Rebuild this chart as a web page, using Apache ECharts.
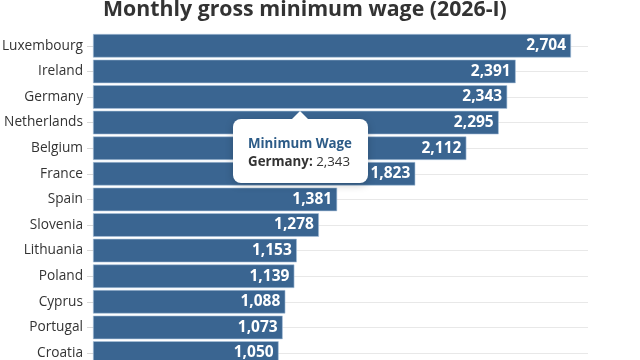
<!DOCTYPE html>
<html><head><meta charset="utf-8">
<script src="https://cdn.jsdelivr.net/npm/echarts@6/dist/echarts.min.js"></script>
<style>html,body{margin:0;padding:0;background:#fff}#c{width:640px;height:360px}</style>
</head><body><div id="c"></div>
<script>
const titleText = 'Monthly gross minimum wage (2026-I)';
const seriesName = 'Minimum Wage';
const countries = ['Luxembourg','Ireland','Germany','Netherlands','Belgium','France','Spain','Slovenia','Lithuania','Poland','Cyprus','Portugal','Croatia'];
const wages = [2704,2391,2343,2295,2112,1823,1381,1278,1153,1139,1088,1073,1050];
const tooltipIndex = 2;

const fmt = v => v.toLocaleString('en-US');
const chart = echarts.init(document.getElementById('c'));
chart.setOption({
  animation: false,
  title: { text: titleText, left: 98, top: -6,
    textStyle: { fontFamily: 'Open Sans', fontWeight: 'bold', fontSize: 21.3, color: '#333' } },
  grid: { left: 93, right: 52, top: 33, height: 332.8, containLabel: false, outerBoundsMode: 'none' },
  xAxis: { type: 'value', min: 0, max: 2800, show: false },
  yAxis: { type: 'category', data: countries, inverse: true,
    axisLine: { show: false },
    axisTick: { show: true, alignWithLabel: true, length: 6, lineStyle: { color: '#d8d8d8' } },
    axisLabel: { fontFamily: 'Open Sans', fontSize: 13.7, color: '#333', margin: 10 },
    splitLine: { show: true, alignWithLabel: true, lineStyle: { color: '#e8e8e8' } } },
  tooltip: { trigger: 'item', alwaysShowContent: true, transitionDuration: 0, showDelay: 0,
    backgroundColor: '#fff', borderWidth: 0, padding: [15, 16, 13, 15],
    extraCssText: 'border-radius:8px;box-shadow:0 2px 8px rgba(0,0,0,0.2);',
    position: function () { return [233, 119]; },
    formatter: function (p) {
      return '<div style="position:absolute;top:-8px;left:calc(50% - 8px);width:0;height:0;border-left:8px solid transparent;border-right:8px solid transparent;border-bottom:8px solid #fff;"></div>' +
        '<div style="font-family:Open Sans;font-size:13.3px;line-height:18px;color:#2c5b87;font-weight:bold">' + p.seriesName + '</div>' +
        '<div style="font-family:Open Sans;font-size:13.3px;line-height:18px;color:#333"><b>' + p.name + ':</b> ' + fmt(p.value) + '</div>';
    } },
  series: [{ type: 'bar', name: seriesName, data: wages, barCategoryGap: '8%',
    itemStyle: { color: '#3a6591', borderColor: '#a9c3dc', borderWidth: 0.6 },
    label: { show: true, position: 'insideRight', distance: 5, formatter: p => fmt(p.value),
      fontFamily: 'Open Sans', fontWeight: 'bold', fontSize: 15.5, color: '#fff' } }]
});
chart.dispatchAction({ type: 'showTip', seriesIndex: 0, dataIndex: tooltipIndex });
</script></body></html>
